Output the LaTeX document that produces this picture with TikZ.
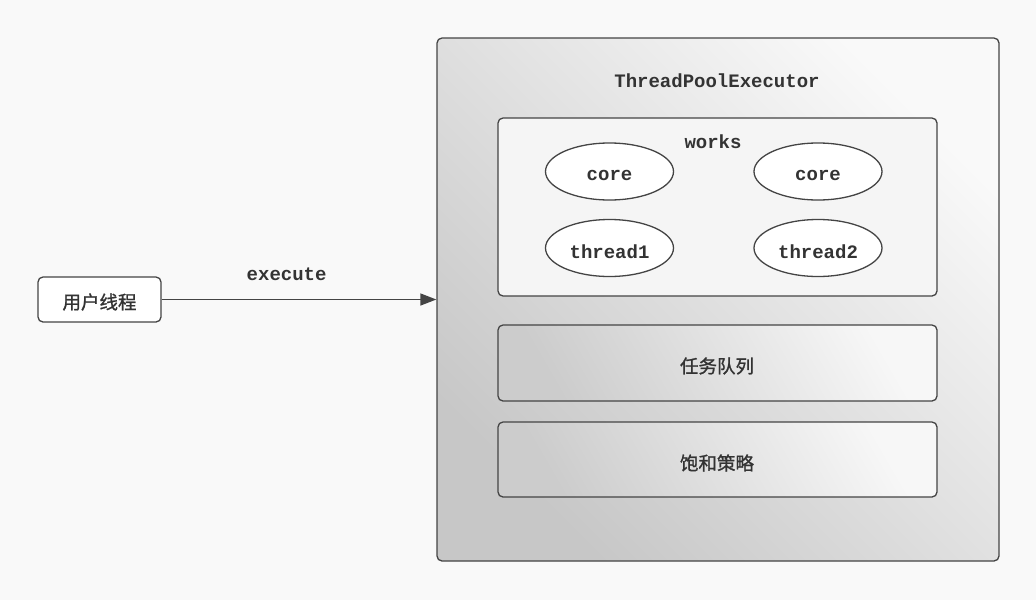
\documentclass[tikz,border=0pt]{standalone}
\usepackage{fontspec}
\setmonofont{Liberation Mono}
\newfontfamily\cjk{Noto Sans CJK SC}[FakeBold=1.2]
\usetikzlibrary{shapes.geometric,arrows.meta}
\definecolor{bg}{HTML}{F9F9F9}
\definecolor{ink}{HTML}{333333}
\definecolor{edge}{HTML}{444444}
\newcommand{\lowtxt}[1]{\raisebox{-4pt}[\height][\depth]{#1}}
\tikzset{
  box/.style={draw=edge, line width=1.3pt, rounded corners=5pt, rectangle, inner sep=0pt},
  oval/.style={ellipse, draw=edge, line width=1.3pt, fill=white, minimum width=128pt, minimum height=57pt, inner sep=0pt},
  mono/.style={font=\ttfamily\bfseries\fontsize{19}{19}\selectfont, text=ink},
  cn/.style={font=\cjk\fontsize{18.5}{18.5}\selectfont, text=ink},
  arr/.style={draw=edge, line width=1.4pt, -{Triangle[length=16pt,width=12pt]}}
}
\begin{document}
\begin{tikzpicture}[x=1pt,y=-1pt]
\useasboundingbox (0,0) rectangle (1036,600);
\fill[bg] (0,0) rectangle (1036,600);
\node[box, top color=white!95!gray, bottom color=black!22, shading angle=-45, minimum width=562pt, minimum height=523pt] (outer) at (718,299.5) {};
\node[mono] (title) at (717,81) {ThreadPoolExecutor};
\node[box, fill=black!4, minimum width=439pt, minimum height=178pt] (works) at (717.5,207) {};
\node[mono] (workslbl) at (713,142) {works};
\node[oval, mono] (core1) at (609.5,171.5) {\lowtxt{core}};
\node[oval, mono] (core2) at (818,171.5) {\lowtxt{core}};
\node[oval, mono] (t1) at (609.5,248) {\lowtxt{thread1}};
\node[oval, mono] (t2) at (818,248) {\lowtxt{thread2}};
\node[box, top color=black!3, bottom color=black!20, shading angle=-60, minimum width=439pt, minimum height=76pt] (queue) at (717.5,363) {};
\node[cn] (queuelbl) at (717,366) {任务队列};
\node[box, top color=black!3, bottom color=black!20, shading angle=-60, minimum width=439pt, minimum height=75pt] (policy) at (717.5,459.5) {};
\node[cn] (policylbl) at (717,463) {饱和策略};
\node[box, fill=white, minimum width=123pt, minimum height=45pt] (user) at (99.5,299.5) {};
\node[cn] (userlbl) at (99.5,302) {用户线程};
\draw[arr] (user.east) -- node[pos=0.455, yshift=25pt, mono] (exec) {execute} (user.east -| outer.west);
\end{tikzpicture}
\end{document}
